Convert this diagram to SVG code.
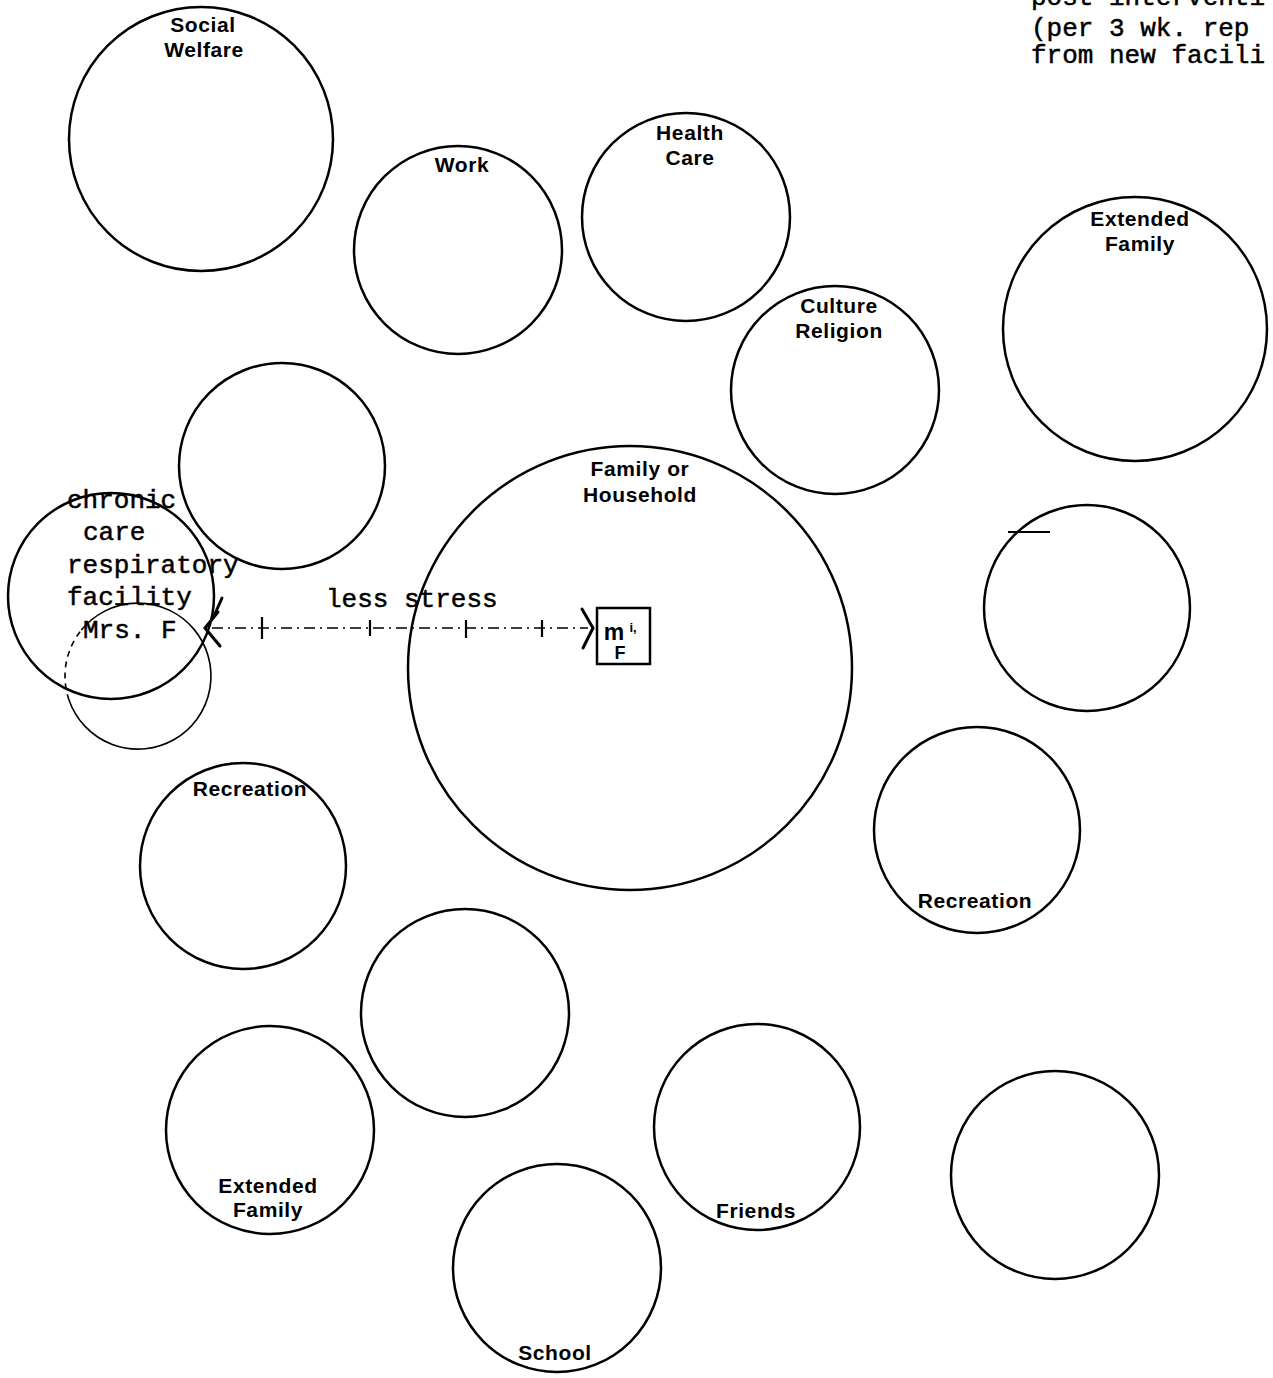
<svg xmlns="http://www.w3.org/2000/svg" width="1273" height="1378" viewBox="0 0 1273 1378">
<style>
.c{fill:none;stroke:#000;stroke-width:2.5}
.t{fill:none;stroke:#000;stroke-width:1.6}
.lb{font-family:"Liberation Sans",Arial,sans-serif;font-size:21px;font-weight:bold;fill:#000;text-anchor:middle;letter-spacing:0.6px}
.tw{font-family:"Liberation Mono","Courier New",monospace;font-size:26px;fill:#000;stroke:#000;stroke-width:0.5}
.ar{fill:none;stroke:#000;stroke-width:3;stroke-linecap:round}
</style>
<rect width="1273" height="1378" fill="#fff"/>
<g id="note">
<text class="tw" x="1031" y="5">post interventi</text>
<text class="tw" x="1031" y="36">(per 3 wk. rep</text>
<text class="tw" x="1031" y="63">from new facili</text>
</g>
<g id="social-welfare"><circle class="c" cx="201" cy="139" r="132"/><text class="lb" x="203" y="32">Social</text><text class="lb" x="204" y="57">Welfare</text></g>
<g id="work"><circle class="c" cx="458" cy="250" r="104"/><text class="lb" x="462" y="172">Work</text></g>
<g id="health-care"><circle class="c" cx="686" cy="217" r="104"/><text class="lb" x="690" y="140">Health</text><text class="lb" x="690" y="165">Care</text></g>
<g id="culture-religion"><circle class="c" cx="835" cy="390" r="104"/><text class="lb" x="839" y="313">Culture</text><text class="lb" x="839" y="338">Religion</text></g>
<g id="extended-family-top"><circle class="c" cx="1135" cy="329" r="132"/><text class="lb" x="1140" y="226">Extended</text><text class="lb" x="1140" y="251">Family</text></g>
<g id="blank-left"><circle class="c" cx="282" cy="466" r="103"/></g>
<g id="family-household"><circle class="c" cx="630" cy="668" r="222"/><text class="lb" x="640" y="476">Family or</text><text class="lb" x="640" y="502">Household</text></g>
<g id="chronic-care"><circle class="c" cx="111" cy="596" r="103"/>
<text class="tw" x="67" y="508">chronic</text>
<text class="tw" x="83" y="540">care</text>
<text class="tw" x="67" y="573">respiratory</text>
<text class="tw" x="67" y="605">facility</text>
<text class="tw" x="83" y="638">Mrs. F</text>
</g>
<g id="small-circle">
<path class="t" d="M81.3,630.1 A73 73 0 1 1 69,700"/>
<path class="t" d="M69,700 A73 73 0 0 1 81.3,630.1" stroke-dasharray="6 5"/>
</g>
<g id="blank-right"><circle class="c" cx="1087" cy="608" r="103"/><path d="M1008,532 L1050,532" stroke="#000" stroke-width="2"/></g>
<g id="recreation-right"><circle class="c" cx="977" cy="830" r="103"/><text class="lb" x="975" y="908">Recreation</text></g>
<g id="recreation-left"><circle class="c" cx="243" cy="866" r="103"/><text class="lb" x="250" y="796">Recreation</text></g>
<g id="blank-lower"><circle class="c" cx="465" cy="1013" r="104"/></g>
<g id="extended-family-bottom"><circle class="c" cx="270" cy="1130" r="104"/><text class="lb" x="268" y="1193">Extended</text><text class="lb" x="268" y="1217">Family</text></g>
<g id="friends"><circle class="c" cx="757" cy="1127" r="103"/><text class="lb" x="756" y="1218">Friends</text></g>
<g id="blank-bottom-right"><circle class="c" cx="1055" cy="1175" r="104"/></g>
<g id="school"><circle class="c" cx="557" cy="1268" r="104"/><text class="lb" x="555" y="1360">School</text></g>
<g id="mrs-f"><rect x="597" y="608" width="53" height="56" fill="none" stroke="#000" stroke-width="2.5"/>
<text x="614" y="640" font-family="Liberation Sans,Arial,sans-serif" font-size="23" font-weight="bold" text-anchor="middle">m</text>
<text x="633" y="632" font-family="Liberation Sans,Arial,sans-serif" font-size="13" font-weight="bold" text-anchor="middle">i,</text>
<text x="620" y="659" font-family="Liberation Sans,Arial,sans-serif" font-size="18" font-weight="bold" text-anchor="middle">F</text>
</g>
<g id="connectors">
<text class="tw" x="326" y="607">less stress</text>
<path d="M212,628 L588,628" stroke="#000" stroke-width="1.6" fill="none" stroke-dasharray="11 5 2 5"/>
<path class="ar" d="M222,598 L214,616 M218,612 L205,628 L220,646"/>
<path class="ar" d="M582,609 L593,628 L583,648"/>
<path d="M262,617 L262,639 M370,620 L370,636 M466,620 L466,638 M542,620 L542,637" stroke="#000" stroke-width="2.2"/>
</g>
</svg>
